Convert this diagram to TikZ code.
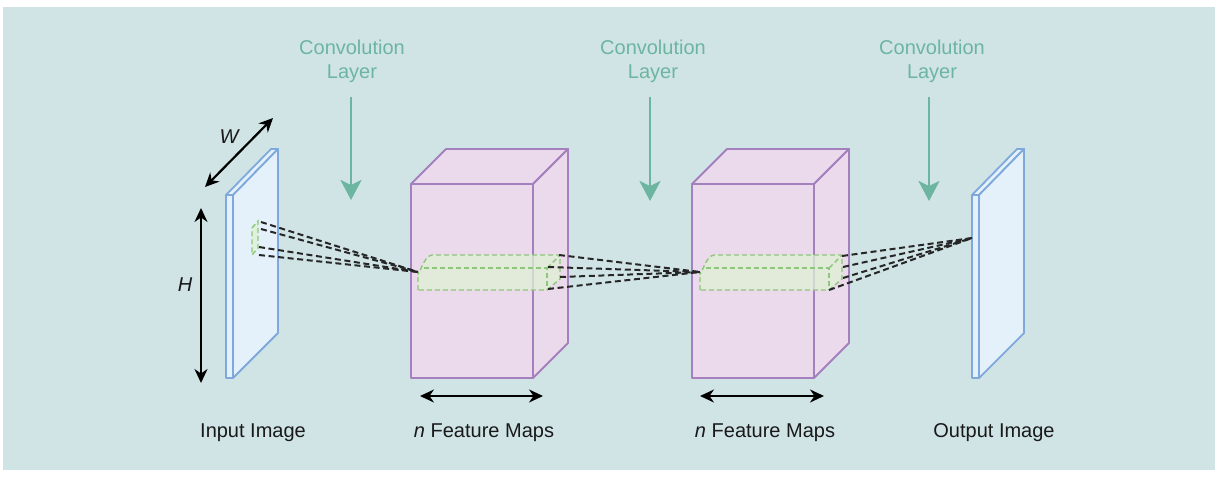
\documentclass[tikz,border=0pt]{standalone}
\usepackage{fontspec}
\setmainfont{Liberation Sans}
\usetikzlibrary{arrows.meta}
\definecolor{bgc}{HTML}{D0E4E6}
\definecolor{platefill}{HTML}{E4F1FA}
\definecolor{platedraw}{HTML}{7FA8DC}
\definecolor{boxfill}{HTML}{EBDAEB}
\definecolor{boxdraw}{HTML}{A480BE}
\definecolor{grfill}{HTML}{DFF0D5}
\definecolor{grdraw}{HTML}{8DC77B}
\definecolor{teal}{HTML}{6CB5A0}
\tikzset{
  plate/.style={fill=platefill,draw=platedraw,line width=0.9pt,line join=round},
  cube/.style={fill=boxfill,draw=boxdraw,line width=0.9pt,line join=round},
  patch/.style={fill=grfill,fill opacity=0.75,draw=grdraw,draw opacity=1,line width=0.7pt,dash pattern=on 2.5pt off 1.5pt},
  patchline/.style={draw=grdraw,line width=0.7pt,dash pattern=on 2.5pt off 1.5pt},
  ray/.style={draw=black!85,line width=1pt,dash pattern=on 3pt off 1.8pt},
  dimarrow/.style={draw=black,line width=1.1pt,{Stealth[length=7pt,width=6.5pt]}-{Stealth[length=7pt,width=6.5pt]}},
  convarrow/.style={draw=teal,line width=1.4pt,-{Stealth[length=10pt,width=10.5pt,inset=2.5pt]}},
  lbl/.style={font=\fontsize{10}{12}\selectfont,text=black!90,inner sep=0pt},
  convlbl/.style={font=\fontsize{10}{11.5}\selectfont,text=teal,inner sep=0pt,align=center},
}
\begin{document}
\begin{tikzpicture}[x=0.5pt,y=-0.5pt]
\useasboundingbox (0,0) rectangle (1218,476);
\fill[white] (0,0) rectangle (1218,476);
\fill[bgc] (3,7) rectangle (1215,470);

% input plate
\path[plate] (226,195) rectangle (233,378);
\path[plate] (226,195) -- (271,149) -- (278,149) -- (233,195) -- cycle;
\path[plate] (233,195) -- (278,149) -- (278,333) -- (233,378) -- cycle;
% output plate
\path[plate] (972,195) rectangle (979,378);
\path[plate] (972,195) -- (1017,149) -- (1024,149) -- (979,195) -- cycle;
\path[plate] (979,195) -- (1024,149) -- (1024,333) -- (979,378) -- cycle;

% feature map boxes
\foreach \s in {0,281}{
  \begin{scope}[xshift=\s*0.5pt]
    \path[cube] (411,184) rectangle (533,378);
    \path[cube] (411,184) -- (446,149) -- (568,149) -- (533,184) -- cycle;
    \path[cube] (533,184) -- (568,149) -- (568,343) -- (533,378) -- cycle;
  \end{scope}
}

% input patch
\path[patch] (252,228) -- (258,221) -- (258,248) -- (252,255) -- cycle;

% cylinders (columns through feature maps)
\foreach \s in {0,282}{
  \begin{scope}[xshift=\s*0.5pt]
    \path[patch] (418,290) -- (418,272) to[out=-90,in=180] (432,255) -- (560,255) -- (560,279) -- (547,290) -- cycle;
    \path[patchline] (424,268) -- (547,268) -- (547,290);
    \path[patchline] (547,268) -- (560,255);
  \end{scope}
}

% named end points of the rays
\coordinate (p1) at (261,222);
\coordinate (p2) at (261,229);
\coordinate (p3) at (259,247);
\coordinate (p4) at (259,255);
\coordinate (c1in) at (418,272);
\coordinate (c1a) at (559,255);
\coordinate (c1b) at (548,267);
\coordinate (c1c) at (560,277);
\coordinate (c1d) at (548,289);
\coordinate (c2in) at (700,272);
\coordinate (c2a) at (842,256);
\coordinate (c2b) at (843,267);
\coordinate (c2c) at (843,278);
\coordinate (c2d) at (829,290);
\coordinate (out) at (972,238);

\foreach \p in {p1,p2,p3,p4}{\path[ray] (\p) -- (c1in);}
\foreach \p in {c1a,c1b,c1c,c1d}{\path[ray] (\p) -- (c2in);}
\foreach \p in {c2a,c2b,c2c,c2d}{\path[ray] (\p) -- (out);}

% dimension arrows
\coordinate (w1) at (205,187);
\coordinate (w2) at (273,118);
\coordinate (h1) at (201,208);
\coordinate (h2) at (201,383);
\coordinate (f1a) at (420,396);
\coordinate (f1b) at (543,396);
\coordinate (f2a) at (700,396);
\coordinate (f2b) at (824,396);
\path[dimarrow] (w1) -- (w2);
\path[dimarrow] (h1) -- (h2);
\path[dimarrow] (f1a) -- (f1b);
\path[dimarrow] (f2a) -- (f2b);
\node[lbl,anchor=base] (wl) at (229,143) {\itshape W};
\node[lbl,anchor=base] (hl) at (185,291) {\itshape H};

% convolution layer labels and arrows
\node[convlbl,anchor=base] (cv1) at (352,78) {Convolution\\Layer};
\node[convlbl,anchor=base] (cv2) at (653,78) {Convolution\\Layer};
\node[convlbl,anchor=base] (cv3) at (932,78) {Convolution\\Layer};
\coordinate (a1s) at (351,97);
\coordinate (a1e) at (351,200);
\coordinate (a2s) at (650,97);
\coordinate (a2e) at (650,201);
\coordinate (a3s) at (929,97);
\coordinate (a3e) at (929,201);
\path[convarrow] (a1s) -- (a1e);
\path[convarrow] (a2s) -- (a2e);
\path[convarrow] (a3s) -- (a3e);

% bottom labels
\node[lbl,anchor=base] (inl) at (253,437) {Input Image};
\node[lbl,anchor=base] (fm1) at (484,437) {\itshape n\upshape\ Feature Maps};
\node[lbl,anchor=base] (fm2) at (765,437) {\itshape n\upshape\ Feature Maps};
\node[lbl,anchor=base] (outl) at (994,437) {Output Image};
\end{tikzpicture}
\end{document}
